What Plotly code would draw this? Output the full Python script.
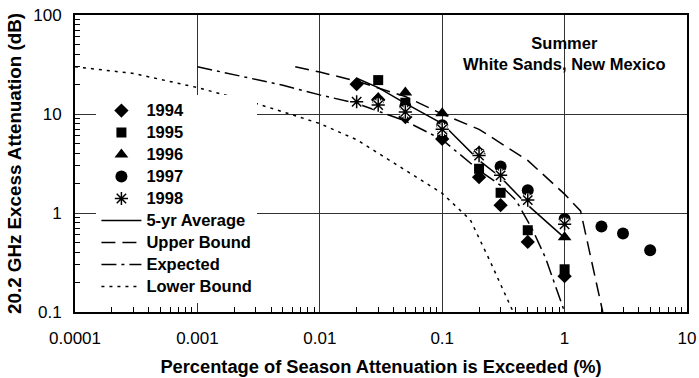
import plotly.graph_objects as go

# ---- data ----
x_1994 = [0.02, 0.03, 0.05, 0.1, 0.2, 0.3, 0.5, 1]
y_1994 = [20, 14, 9.3, 5.6, 2.3, 1.2, 0.51, 0.23]
x_1995 = [0.03, 0.05, 0.1, 0.2, 0.3, 0.5, 1]
y_1995 = [22, 13, 6.5, 2.8, 1.6, 0.67, 0.27]
x_1996 = [0.03, 0.05, 0.1, 0.2, 1]
y_1996 = [14.5, 16.5, 10.2, 4.2, 0.57]
x_1997 = [0.03, 0.05, 0.1, 0.2, 0.3, 0.5, 1, 2, 3, 5]
y_1997 = [13.5, 12, 7.7, 4.0, 2.95, 1.7, 0.87, 0.73, 0.62, 0.42]
x_1998 = [0.02, 0.03, 0.05, 0.1, 0.2, 0.3, 0.5, 1]
y_1998 = [13.3, 12.3, 10.5, 7.0, 3.8, 2.4, 1.35, 0.77]

x_avg = [0.02, 0.03, 0.05, 0.1, 0.2, 0.3, 0.5, 1]
y_avg = [23, 18.5, 12.8, 8.0, 3.4, 2.3, 1.2, 0.56]

x_upper = [0.0063, 0.01, 0.02, 0.05, 0.1, 0.2, 0.5, 0.8, 1, 1.35, 2.05]
y_upper = [30, 26.5, 21.5, 15, 10, 7, 3.4, 2.0, 1.55, 1.05, 0.1]

x_expected = [0.001, 0.002, 0.005, 0.01, 0.02, 0.05, 0.1, 0.2, 0.3, 0.4, 0.55, 0.7, 1]
y_expected = [30, 25, 19.5, 15.6, 12.8, 8.5, 5.5, 2.7, 1.9, 1.35, 0.67, 0.35, 0.1]

x_lower = [0.0001, 0.0003, 0.001, 0.003, 0.006, 0.01, 0.02, 0.05, 0.1, 0.17, 0.245, 0.38]
y_lower = [30, 25.7, 18.5, 12.8, 9.8, 8.0, 5.5, 2.7, 1.58, 0.85, 0.33, 0.1]

x_ticks = [0.0001, 0.001, 0.01, 0.1, 1, 10]
x_ticklabels = ["0.0001", "0.001", "0.01", "0.1", "1", "10"]
y_ticks = [0.1, 1, 10, 100]
y_ticklabels = ["0.1", "1", "10", "100"]

x_minor = [m * 10 ** e for e in range(-4, 1) for m in range(2, 10)]
y_minor = [m * 10 ** e for e in range(-1, 2) for m in range(2, 10)]

FONT = "Liberation Sans, Arial, sans-serif"
FS_TICK = 17
FS_XTITLE = 18.3
FS_YTITLE = 18.8
FS_LEG = 16.5
FS_LEG_BASE = 14.6


def leg(name):
    return "<span style='font-size:%spx'>%s</span>" % (FS_LEG, name)


fig = go.Figure()

line_w = 1.5
fig.add_trace(go.Scatter(x=x_lower, y=y_lower, mode="lines", name=leg("Lower Bound"),
                         line=dict(color="black", width=line_w, dash="3px,5px"), legendrank=9))
fig.add_trace(go.Scatter(x=x_expected, y=y_expected, mode="lines", name=leg("Expected"),
                         line=dict(color="black", width=line_w, dash="15px,5px,3px,5px"), legendrank=8))
fig.add_trace(go.Scatter(x=x_upper, y=y_upper, mode="lines", name=leg("Upper Bound"),
                         line=dict(color="black", width=line_w, dash="14px,7px"), legendrank=7))
fig.add_trace(go.Scatter(x=x_avg, y=y_avg, mode="lines", name=leg("5-yr Average"),
                         line=dict(color="black", width=line_w), legendrank=6))

msize = 11
fig.add_trace(go.Scatter(x=x_1997, y=y_1997, mode="markers", name=leg("1997"),
                         marker=dict(symbol="circle", size=msize + 1, color="black"), legendrank=4))
fig.add_trace(go.Scatter(x=x_1996, y=y_1996, mode="markers", name=leg("1996"),
                         marker=dict(symbol="triangle-up", size=msize + 1, color="black"), legendrank=3))
fig.add_trace(go.Scatter(x=x_1995, y=y_1995, mode="markers", name=leg("1995"),
                         marker=dict(symbol="square", size=msize - 1, color="black"), legendrank=2))
fig.add_trace(go.Scatter(x=x_1994, y=y_1994, mode="markers", name=leg("1994"),
                         marker=dict(symbol="diamond", size=msize, color="black"), legendrank=1))
fig.add_trace(go.Scatter(x=x_1998, y=y_1998, mode="markers", name="1998 halo", showlegend=False,
                         hoverinfo="skip",
                         marker=dict(symbol="asterisk-open", size=msize, color="white",
                                     line=dict(color="white", width=3.5))))
fig.add_trace(go.Scatter(x=x_1998, y=y_1998, mode="markers", name=leg("1998"),
                         marker=dict(symbol="asterisk-open", size=msize, color="black",
                                     line=dict(color="black", width=1.5)), legendrank=5))

fig.add_annotation(x=0.8, y=0.872, xref="paper", yref="paper",
                   text="<b>Summer</b><br><b>White Sands, New Mexico</b>",
                   showarrow=False, font=dict(family=FONT, size=FS_LEG, color="black"),
                   align="center", xanchor="center", yanchor="middle")

axis_common = dict(
    type="log", showline=True, linecolor="black", linewidth=2, mirror=True,
    showgrid=True, gridcolor="#333333", gridwidth=1,
    ticks="outside", tickcolor="rgba(0,0,0,0)", zeroline=False, automargin=False,
    tickfont=dict(family=FONT, size=FS_TICK, color="black"),
)

fig.update_xaxes(**axis_common, range=[-4, 1], tickvals=x_ticks, ticktext=x_ticklabels,
                 ticklen=10,
                 minor=dict(ticks="inside", ticklen=5, tickcolor="black", showgrid=False,
                            tickmode="array", tickvals=x_minor),
                 title=dict(text="<b>Percentage of Season Attenuation is Exceeded (%)</b>",
                            font=dict(family=FONT, size=FS_XTITLE, color="black"), standoff=13))
fig.update_yaxes(**axis_common, range=[-1, 2], tickvals=y_ticks, ticktext=y_ticklabels,
                 ticklen=8,
                 minor=dict(ticks="inside", ticklen=5, tickcolor="black", showgrid=False,
                            tickmode="array", tickvals=y_minor),
                 title=dict(text="<b>20.2 GHz Excess Attenuation (dB)</b>",
                            font=dict(family=FONT, size=FS_YTITLE, color="black"), standoff=7))

fig.update_layout(
    width=699, height=378,
    margin=dict(l=75, r=12, t=15, b=66),
    paper_bgcolor="white", plot_bgcolor="white",
    font=dict(family=FONT, color="black"),
    showlegend=True,
    legend=dict(x=0.035, y=0.732, xanchor="left", yanchor="top",
                bgcolor="white", borderwidth=0,
                font=dict(family=FONT, size=FS_LEG_BASE, color="black", weight="bold"),
                tracegroupgap=0, itemwidth=40),
)

fig.write_html("out.html", config={"displayModeBar": False},
               post_script="document.body.style.margin='0';")
